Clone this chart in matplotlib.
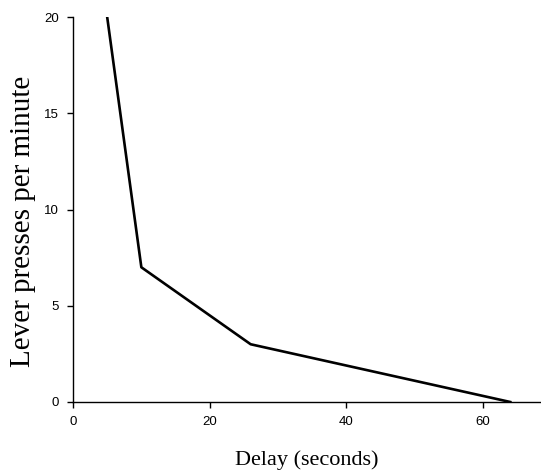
import matplotlib
matplotlib.use('Agg')
import matplotlib.pyplot as plt

# data
delay = [5, 10, 26, 64]
presses = [20, 7, 3, 0]
xticks = [0, 20, 40, 60]
yticks = [0, 5, 10, 15, 20]

fig = plt.figure(figsize=(5.41, 4.75), dpi=100)
ax = fig.add_axes([0.135, 0.1537, 0.865, 0.8103])

ax.plot(delay, presses, color='black', linewidth=1.9)

ax.set_xlim(0, 68.5)
ax.set_ylim(0, 20)
ax.set_xticks(xticks)
ax.set_yticks(yticks)

for s in ['top', 'right']:
    ax.spines[s].set_visible(False)
for s in ['left', 'bottom']:
    ax.spines[s].set_linewidth(1.0)
    ax.spines[s].set_color('black')

ax.tick_params(direction='out', length=4, width=1, labelsize=9.5, pad=6)
for lab in ax.get_xticklabels() + ax.get_yticklabels():
    lab.set_family('Liberation Sans')

ax.set_xlabel('Delay (seconds)', family='Liberation Serif', fontsize=16, labelpad=16)
ax.set_ylabel('Lever presses per minute', family='Liberation Serif', fontsize=21)
ax.yaxis.set_label_coords(-0.08, 0.47)

fig.savefig('out.png', dpi=100)
